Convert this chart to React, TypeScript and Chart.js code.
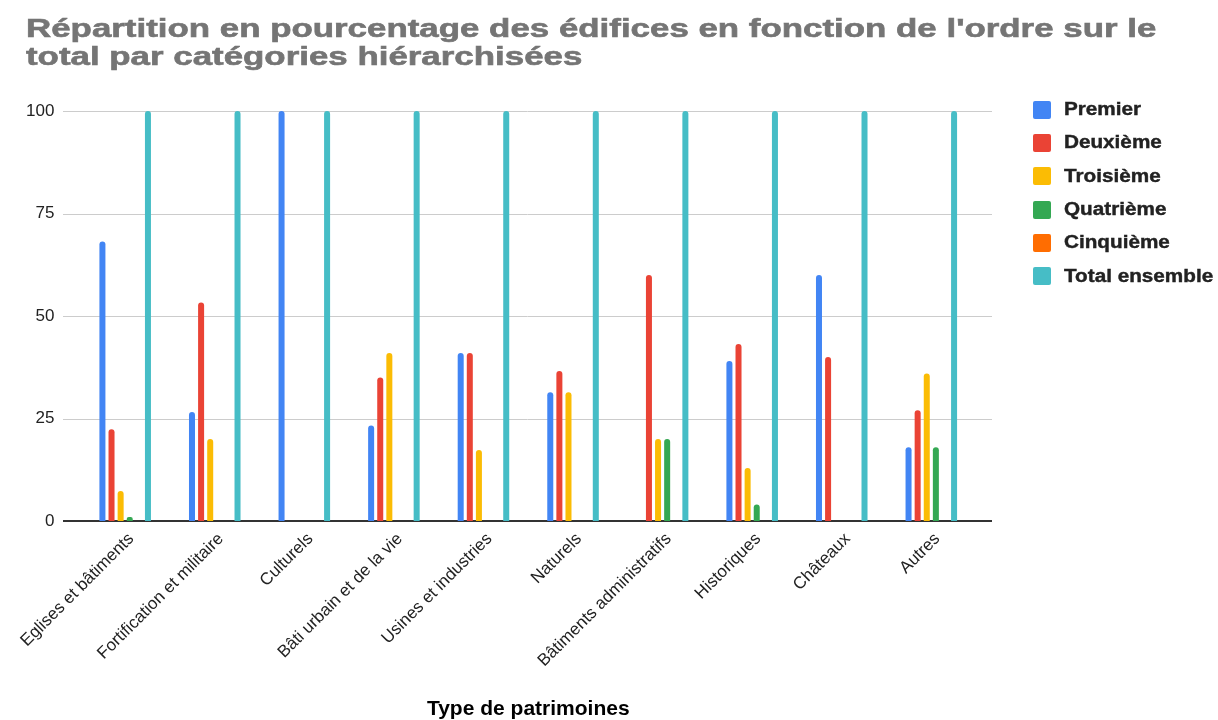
import React, { useEffect, useRef } from "react";
import { Chart, registerables } from "chart.js";

Chart.register(...registerables);

const TITLE_LINES = [
  "Répartition en pourcentage des édifices en fonction de l'ordre sur le",
  "total par catégories hiérarchisées",
];
const X_TITLE = "Type de patrimoines";

const CATEGORIES = [
  "Eglises et bâtiments",
  "Fortification et militaire",
  "Culturels",
  "Bâti urbain et de la vie",
  "Usines et industries",
  "Naturels",
  "Bâtiments administratifs",
  "Historiques",
  "Châteaux",
  "Autres",
];

const SERIES_NAMES = ["Premier", "Deuxième", "Troisième", "Quatrième", "Cinquième", "Total ensemble"];
const PREMIER = [68.2, 26.6, 100, 23.3, 41, 31.4, 0, 39, 60, 18];
const DEUXIEME = [22.4, 53.3, 0, 35, 41, 36.6, 60, 43.2, 40, 27];
const TROISIEME = [7.3, 20, 0, 41, 17.3, 31.4, 20, 12.9, 0, 36];
const QUATRIEME = [1, 0, 0, 0, 0, 0, 20, 4, 0, 18];
const CINQUIEME = [0, 0, 0, 0, 0, 0, 0, 0, 0, 0];
const TOTAL = [100, 100, 100, 100, 100, 100, 100, 100, 100, 100];
const SERIES_VALUES = [PREMIER, DEUXIEME, TROISIEME, QUATRIEME, CINQUIEME, TOTAL];
const COLORS = ["#4285F4", "#EA4335", "#FBBC04", "#34A853", "#FF6D01", "#46BDC6"];
const Y_TICKS = [0, 25, 50, 75, 100];

const FONT = "'Liberation Sans', Arial, sans-serif";

const gridPlugin = {
  id: "extendedGrid",
  beforeDatasetsDraw(chart: any) {
    const { ctx, chartArea } = chart;
    const y = chart.scales.y;
    const x0 = chartArea.left - 17.4;
    const x1 = chartArea.right + 15.9;
    ctx.save();
    Y_TICKS.forEach((t) => {
      if (t === 0) return;
      const py = Math.round(y.getPixelForValue(t)) + 0.5;
      ctx.strokeStyle = "#cccccc";
      ctx.lineWidth = 1;
      ctx.beginPath();
      ctx.moveTo(x0, py);
      ctx.lineTo(x1, py);
      ctx.stroke();
    });
    const pz = y.getPixelForValue(0);
    ctx.strokeStyle = "#333333";
    ctx.lineWidth = 2;
    ctx.beginPath();
    ctx.moveTo(x0, pz);
    ctx.lineTo(x1, pz);
    ctx.stroke();
    ctx.restore();
  },
};

export default function App() {
  const ref = useRef<HTMLCanvasElement | null>(null);

  useEffect(() => {
    document.body.style.margin = "0";
    if (!ref.current) return;
    const chart = new Chart(ref.current, {
      type: "bar",
      data: {
        labels: CATEGORIES,
        datasets: SERIES_NAMES.map((name, i) => ({
          label: name,
          data: SERIES_VALUES[i],
          backgroundColor: COLORS[i],
          borderWidth: 0,
          borderRadius: { topLeft: 3, topRight: 3, bottomLeft: 0, bottomRight: 0 },
          borderSkipped: "start",
          categoryPercentage: 0.61,
          barPercentage: 0.66,
        })),
      },
      options: {
        responsive: false,
        animation: false,
        devicePixelRatio: 1,
        layout: { padding: { top: 111, right: 241.9, bottom: 0, left: 0 } },
        plugins: {
          legend: { display: false },
          title: { display: false },
          tooltip: { enabled: false },
        },
        scales: {
          x: {
            grid: { display: false, drawTicks: false },
            border: { display: false },
            ticks: {
              autoSkip: false,
              minRotation: 45,
              maxRotation: 45,
              padding: 8,
              labelOffset: 6,
              color: "#222222",
              font: { family: FONT, size: 17 },
            },
            title: {
              display: true,
              text: X_TITLE,
              color: "#000000",
              padding: { top: 0, bottom: 0 },
              font: { family: FONT, size: 21, weight: "bold", lineHeight: 1 },
            },
            afterFit(scale: any) {
              scale.height = 199;
            },
          },
          y: {
            min: 0,
            max: 100,
            grid: { display: false, drawTicks: false },
            border: { display: false },
            afterBuildTicks(scale: any) {
              scale.ticks = Y_TICKS.map((v) => ({ value: v }));
            },
            ticks: {
              padding: 26,
              color: "#222222",
              font: { family: FONT, size: 17 },
            },
            afterFit(scale: any) {
              scale.width = 80.4;
            },
          },
        },
      },
      plugins: [gridPlugin],
    });
    return () => chart.destroy();
  }, []);

  return (
    <div style={{ position: "relative", width: 1218, height: 720, background: "#fff", overflow: "hidden" }}>
      <canvas ref={ref} width={1218} height={720} style={{ position: "absolute", left: 0, top: 0 }} />
      <div
        style={{
          position: "absolute",
          left: 26,
          top: 14,
          fontFamily: FONT,
          fontWeight: "bold",
          fontSize: 25,
          lineHeight: "28px",
          color: "#757575",
          whiteSpace: "nowrap",
          WebkitTextStroke: "0.6px #757575",
          transform: "scaleX(1.395)",
          transformOrigin: "left top",
        }}
      >
        {TITLE_LINES.map((l, i) => (
          <div key={i}>{l}</div>
        ))}
      </div>
      <div style={{ position: "absolute", left: 1033, top: 93 }}>
        {SERIES_NAMES.map((name, i) => (
          <div key={name} style={{ display: "flex", alignItems: "center", height: 33.3 }}>
            <div style={{ width: 18, height: 18, borderRadius: 2, background: COLORS[i], flex: "none" }} />
            <div
              style={{
                marginLeft: 13,
                fontFamily: FONT,
                fontWeight: "bold",
                fontSize: 18,
                color: "#222222",
                whiteSpace: "nowrap",
                WebkitTextStroke: "0.4px #222222",
                transform: "scaleX(1.15)",
                transformOrigin: "left center",
              }}
            >
              {name}
            </div>
          </div>
        ))}
      </div>
    </div>
  );
}
